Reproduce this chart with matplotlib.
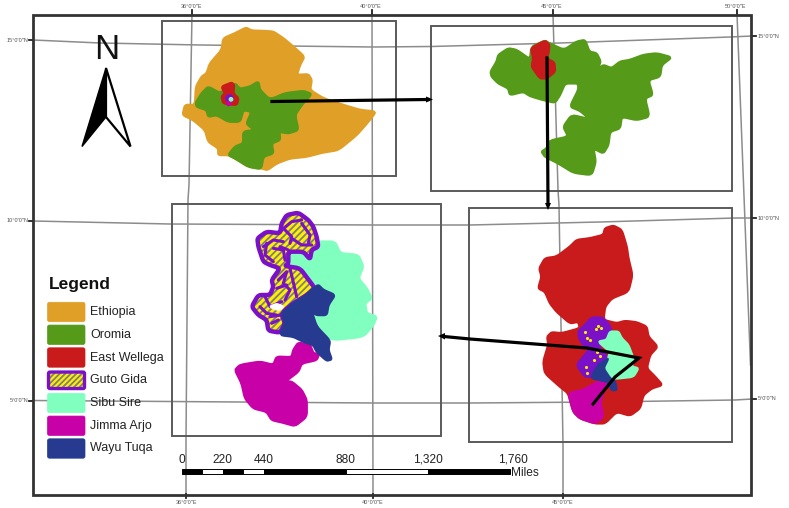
import numpy as np
import matplotlib
matplotlib.use("Agg")
import matplotlib.pyplot as plt
from matplotlib.patches import Polygon, Rectangle, Circle, FancyBboxPatch

plt.rcParams['font.family'] = ['Liberation Sans', 'DejaVu Sans']

# ---- map outlines (x, y in panel units of 1/3 pixel)
ethiopia = [(258,38),(275,47),(310,48),(340,50),(370,70),(400,95),(433,125),(420,150),(410,180),(445,178),(455,195),(450,225),(490,250),(550,270),(600,285),(648,290),(625,320),(590,360),(535,405),(490,412),(440,425),(390,430),(350,445),(322,465),(305,460),(265,455),(225,430),(205,420),(175,420),(175,400),(145,380),(135,345),(100,315),(68,300),(75,270),(105,270),(108,215),(125,185),(140,175),(150,145),(185,105),(190,70),(225,55)]
oromia_small = [(108,262),(125,235),(145,215),(180,235),(225,205),(240,222),(270,215),(295,200),(300,225),(325,250),(340,250),(375,235),(430,228),(455,237),(425,270),(405,300),(415,345),(385,355),(358,350),(360,375),(335,385),(340,415),(310,425),(303,462),(265,455),(225,430),(205,420),(225,395),(250,385),(250,350),(285,345),(270,335),(260,325),(275,290),(250,285),(240,320),(205,320),(170,300),(145,305),(140,285),(110,275)]
wellega_small = [(185,215),(215,203),(222,210),(220,235),(235,250),(230,270),(190,265),(185,245),(195,235)]
oromia_big = [(182,155),(200,125),(205,105),(235,85),(260,90),(300,118),(305,80),(345,62),(358,70),(402,90),(440,65),(465,60),(478,95),(500,100),(512,125),(500,150),(520,135),(545,145),(570,125),(600,120),(640,105),(680,100),(725,112),(695,135),(690,170),(655,180),(668,225),(645,235),(658,290),(620,300),(575,290),(570,325),(540,335),(535,375),(520,400),(490,385),(497,425),(485,465),(430,458),(385,430),(345,410),(335,395),(350,385),(360,362),(415,350),(400,320),(425,285),(480,298),(450,272),(420,260),(445,210),(445,190),(405,190),(390,225),(375,248),(340,240),(300,228),(280,215),(240,225),(235,205),(205,190),(185,170)]
wellega_mid = [(303,85),(345,62),(358,75),(355,100),(350,115),(373,128),(375,155),(350,175),(330,175),(305,140),(310,115)]
wellega = [(405,70),(430,62),(455,75),(470,125),(475,160),(487,210),(475,260),(425,280),(405,305),(400,345),(440,355),(465,348),(500,352),(530,365),(535,395),(563,425),(540,450),(530,490),(555,515),(577,540),(545,550),(520,570),(510,610),(480,632),(440,620),(405,655),(375,655),(330,640),(310,620),(295,565),(270,545),(225,505),(220,470),(235,420),(232,395),(245,382),(275,385),(330,370),(325,350),(300,355),(260,320),(240,295),(225,260),(205,250),(215,215),(208,190),(225,160),(260,155),(300,125),(320,105),(360,100),(400,90)]
guto_mid = [(325,380),(345,360),(365,338),(395,338),(415,355),(425,380),(405,400),(385,410),(390,430),(405,445),(410,460),(385,480),(365,515),(345,515),(320,480),(345,450),(360,430),(340,420),(328,400)]
sibu_mid = [(420,380),(445,380),(455,400),(475,420),(490,460),(485,485),(505,490),(490,515),(445,520),(420,520),(400,490),(415,460),(420,440),(385,410),(410,405)]
wayu_mid = [(385,480),(400,470),(415,460),(400,490),(420,520),(435,530),(440,555),(425,555),(415,530),(365,520),(370,505)]
jimma_mid = [(295,565),(340,555),(385,530),(415,525),(390,590),(400,635),(375,655),(330,640),(310,620)]
guto_dots_x = [385,392,378,345,352,360,382,390,372,348,352]
guto_dots_y = [362,368,372,380,398,405,440,452,465,485,505]
sibu_big = [(350,160),(375,150),(420,150),(440,125),(495,125),(510,160),(565,165),(580,200),(565,235),(590,265),(605,295),(585,310),(590,340),(620,350),(610,375),(580,410),(490,420),(450,400),(440,370),(425,340),(440,345),(470,345),(475,315),(495,290),(460,270),(445,255),(420,240),(395,205),(355,190)]
wayu_big = [(445,255),(460,270),(495,285),(475,315),(470,345),(440,345),(425,335),(440,380),(480,422),(475,450),(485,478),(470,482),(440,455),(430,435),(400,425),(370,410),(330,405),(345,370),(335,340),(370,310),(410,285),(430,265)]
jimma_big = [(385,428),(420,435),(430,460),(447,462),(440,480),(395,490),(385,515),(345,545),(365,545),(395,570),(410,600),(410,650),(375,678),(340,668),(305,660),(290,635),(250,625),(225,595),(215,550),(195,510),(210,495),(270,485),(310,495),(320,470),(365,472),(370,450)]
guto_big = [(335,70),(350,45),(385,38),(415,60),(430,80),(440,110),(445,140),(425,150),(420,178),(400,155),(355,155),(355,190),(345,198),(390,205),(420,245),(435,265),(410,285),(370,310),(345,330),(335,345),(345,370),(330,398),(295,392),(290,360),(265,345),(245,320),(265,285),(300,285),(310,260),(305,240),(330,205),(300,195),(280,185),(265,140),(262,115),(290,95),(330,100)]
guto_hole = [(300,320),(320,312),(340,320),(325,330)]
guto_veins = [
    [(335,90),(365,65),(395,60)], [(345,90),(365,110),(360,130)], [(395,70),(420,105),(415,130)],
    [(365,115),(395,135),(425,135)], [(280,140),(310,120),(340,125)], [(290,130),(285,165),(310,185)],
    [(330,140),(355,150)], [(310,145),(340,150),(345,180)], [(325,240),(350,215),(340,250),(360,270),(345,300)],
    [(360,205),(380,290)], [(320,265),(350,255)], [(285,290),(300,320),(335,305)],
    [(270,320),(290,340),(320,345)], [(305,370),(325,360)], [(300,350),(335,345)],
]

legend_names = ["Ethiopia", "Oromia", "East Wellega", "Guto Gida", "Sibu Sire", "Jimma Arjo", "Wayu Tuqa"]
legend_colors = ["#E0A028", "#559A18", "#C91A1C", "#FFF000", "#80FFBE", "#C800A8", "#263A90"]
scale_values = [0, 220, 440, 880, 1320, 1760]
scale_breaks = [0, 110, 220, 330, 440, 880, 1320, 1760]

lat_labels = ['15°0\'0"N', '10°0\'0"N', '5°0\'0"N']
lat_lines = [
    [(33,40),(100,43),(200,45),(373,47),(431,46.5),(560,43),(730,37),(752,36)],
    [(33,221),(170,224),(373,225),(470,225),(600,222),(735,218),(752,218)],
    [(33,400.5),(170,401.5),(373,403),(470,403),(600,402),(735,400),(752,399)],
]
lon_labels = ['36°0\'0"E', '40°0\'0"E', '45°0\'0"E', '50°0\'0"E']
lon_lines = [
    [(192,14),(189,185),(188,200),(186,440),(186,494)],
    [(372,14),(373,494)],
    [(553,14),(558,190),(559,205),(563,445),(563,494)],
    [(737,14),(750.5,365)],
]

ORANGE, GREEN, RED, YELLOW, SIBU, JIMMA, WAYU = "#E0A028", "#559A18", "#C91A1C", "#FFF000", "#80FFBE", "#C800A8", "#263A90"
PURPLE = "#7A10C8"

fig = plt.figure(figsize=(7.89, 5.08), dpi=100)
ax = fig.add_axes([0, 0, 1, 1])
ax.set_xlim(0, 789); ax.set_ylim(508, 0); ax.axis('off')


def smooth(a, rounds=2):
    for _ in range(rounds):
        b = np.roll(a, -1, axis=0)
        a = np.column_stack([0.85 * a + 0.15 * b, 0.15 * a + 0.85 * b]).reshape(-1, 2)
    return a


def P(pts, ox, oy, rounds=2):
    a = np.array(pts, dtype=float) / 3.0
    return smooth(a, rounds) + [ox, oy]


def fill(pts, ox, oy, color, z=3, **kw):
    ax.add_patch(Polygon(P(pts, ox, oy), closed=True, fc=color, ec=color, lw=1.8, joinstyle='round', zorder=z, **kw))


# graticule
for line in lat_lines + lon_lines:
    a = np.array(line)
    ax.plot(a[:, 0], a[:, 1], color="#8c8c8c", lw=1.1, zorder=1)

# frame and panels
ax.add_patch(Rectangle((33.5, 14.5), 718, 480, fc='none', ec="#333333", lw=2.0, zorder=6))
for (x0, y0, x1, y1) in [(162.5, 21, 396, 176), (431, 26, 732, 190.5), (469, 208, 732, 442), (172, 203.5, 441, 436)]:
    ax.add_patch(Rectangle((x0, y0), x1 - x0, y1 - y0, fc='none', ec="#5a5a5a", lw=1.4, zorder=2))

# panel 1
o1 = (160, 15)
fill(ethiopia, *o1, ORANGE)
fill(oromia_small, *o1, GREEN, z=4)
fill(wellega_small, *o1, RED, z=5)
ax.add_patch(Circle((160 + 208/3, 15 + 250/3), 4.2, fc=PURPLE, ec='none', zorder=6))
ax.add_patch(Circle((160 + 206/3, 15 + 266/3), 2.6, fc=JIMMA, ec='none', zorder=6))
ax.add_patch(Circle((160 + 213/3, 15 + 253/3), 2.4, fc=SIBU, ec='none', zorder=7))

# panel 2
o2 = (430, 20)
fill(oromia_big, *o2, GREEN)
fill(wellega_mid, *o2, RED, z=4)

# panel 4
o4 = (470, 205)
fill(wellega, *o4, RED)
fill(guto_mid, *o4, PURPLE, z=4)
fill(sibu_mid, *o4, SIBU, z=5)
fill(wayu_mid, *o4, WAYU, z=5)
fill(jimma_mid, *o4, JIMMA, z=4)
ax.scatter(470 + np.array(guto_dots_x)/3, 205 + np.array(guto_dots_y)/3, s=5, c=YELLOW, linewidths=0, zorder=6)

# panel 3
o3 = (170, 200)
fill(sibu_big, *o3, SIBU)
fill(jimma_big, *o3, JIMMA)
plt.rcParams['hatch.linewidth'] = 1.3
ax.add_patch(Polygon(P(guto_big, *o3), closed=True, fc=YELLOW, ec="#7f7f7f", hatch='/////', lw=0, zorder=3))
ax.add_patch(Polygon(P(guto_big, *o3), closed=True, fc='none', ec=PURPLE, lw=3.2, joinstyle='round', zorder=4))
for v in guto_veins:
    a = P(v, *o3, rounds=0)
    ax.plot(a[:, 0], a[:, 1], color=PURPLE, lw=2.2, solid_capstyle='round', zorder=4)
fill(guto_hole, *o3, "white", z=5)
fill(wayu_big, *o3, WAYU, z=5)

# arrows (black flow lines)
a1 = np.array([(272, 101.5), (428, 99.5)])
ax.plot(a1[:, 0], a1[:, 1], color='k', lw=2.3, zorder=8)
ax.add_patch(Polygon([(433, 99.5), (426, 96.5), (426, 102.5)], fc='k', ec='k', lw=0, zorder=8))
a2 = np.array([(547, 58), (548, 204)])
ax.plot(a2[:, 0], a2[:, 1], color='k', lw=2.3, zorder=8)
ax.add_patch(Polygon([(548, 210), (545, 203), (551, 203)], fc='k', ec='k', lw=0, zorder=8))
a3 = np.array([(593, 404), (615, 377), (639, 358), (587, 348), (470, 339), (444, 336.5)])
ax.plot(a3[:, 0], a3[:, 1], color='k', lw=2.3, zorder=8, solid_joinstyle='miter')
ax.add_patch(Polygon([(438, 336), (445, 333), (445, 339.5)], fc='k', ec='k', lw=0, zorder=8))

# north arrow
ax.text(107, 49.5, "N", ha='center', va='center', fontsize=25, color='#111111', zorder=9)
ax.add_patch(Polygon([(106, 68), (82, 146.5), (106, 117)], fc='k', ec='k', lw=1, zorder=9))
ax.add_patch(Polygon([(106, 68), (130.5, 146.5), (106, 117)], fc='white', ec='k', lw=1.6, zorder=9))

# legend
ax.text(49, 284, "Legend", fontsize=12.5, fontweight='bold', color='#111111', ha='left', va='center', zorder=9)
for i, (name, col) in enumerate(zip(legend_names, legend_colors)):
    y0 = 302.3 + i * 22.75
    if name == "Guto Gida":
        ax.add_patch(Rectangle((48.5, y0 + 1.5), 36, 16.5, fc=YELLOW, ec="#7f7f7f", hatch='//////', lw=0, zorder=7))
        ax.add_patch(FancyBboxPatch((48.5, y0 + 1.5), 36, 16.5, boxstyle="round,pad=0,rounding_size=1.5", fc='none', ec=PURPLE, lw=2.4, zorder=8))
    else:
        ax.add_patch(FancyBboxPatch((47.5, y0), 37.5, 19.4, boxstyle="round,pad=0,rounding_size=2", fc=col, ec=col, lw=0.5, zorder=7))
    ax.text(90.5, y0 + 9.7, name, fontsize=9, color='#222222', ha='left', va='center', zorder=9)

# scale bar
sx = lambda v: 181.7 + np.asarray(v) * (510 - 181.7) / 1760
for i in range(len(scale_breaks) - 1):
    x0, x1 = sx(scale_breaks[i]), sx(scale_breaks[i + 1])
    ax.add_patch(Rectangle((x0, 468.5), x1 - x0, 5.5, fc='k' if i % 2 == 0 else 'white', ec='k', lw=0.7, zorder=8))
for v in scale_values:
    label = f"{v:,}"
    xp = sx(v) + (3 if v == 1760 else 0)
    ax.text(xp, 460, label, fontsize=8.6, color='#222222', ha='center', va='center', zorder=9)
ax.text(511.5, 472.5, "Miles", fontsize=8.6, color='#222222', ha='left', va='center', zorder=9)

# graticule ticks and labels
for lab, yr, yl in zip(lat_labels, [36, 218, 399], [40, 221, 400.5]):
    ax.plot([752, 756], [yr, yr], color='#222222', lw=1.3, zorder=2)
    ax.plot([29, 33], [yl, yl], color='#222222', lw=1.3, zorder=2)
    ax.text(757.5, yr, lab, fontsize=4, color='#555555', ha='left', va='center')
    ax.text(28.5, yl, lab, fontsize=4, color='#555555', ha='right', va='center')
for lab, x in zip(lon_labels, [192, 372, 553, 737]):
    ax.plot([x, x], [10, 14], color='#222222', lw=1.3, zorder=2)
    ax.text(x - 1, 6, lab, fontsize=4, color='#555555', ha='center', va='center')
for lab, x in zip(lon_labels[:3], [186, 373, 563]):
    ax.plot([x, x], [494, 498], color='#222222', lw=1.3, zorder=2)
    ax.text(x, 502, lab, fontsize=4, color='#555555', ha='center', va='center')

fig.savefig("out.png", dpi=100)
